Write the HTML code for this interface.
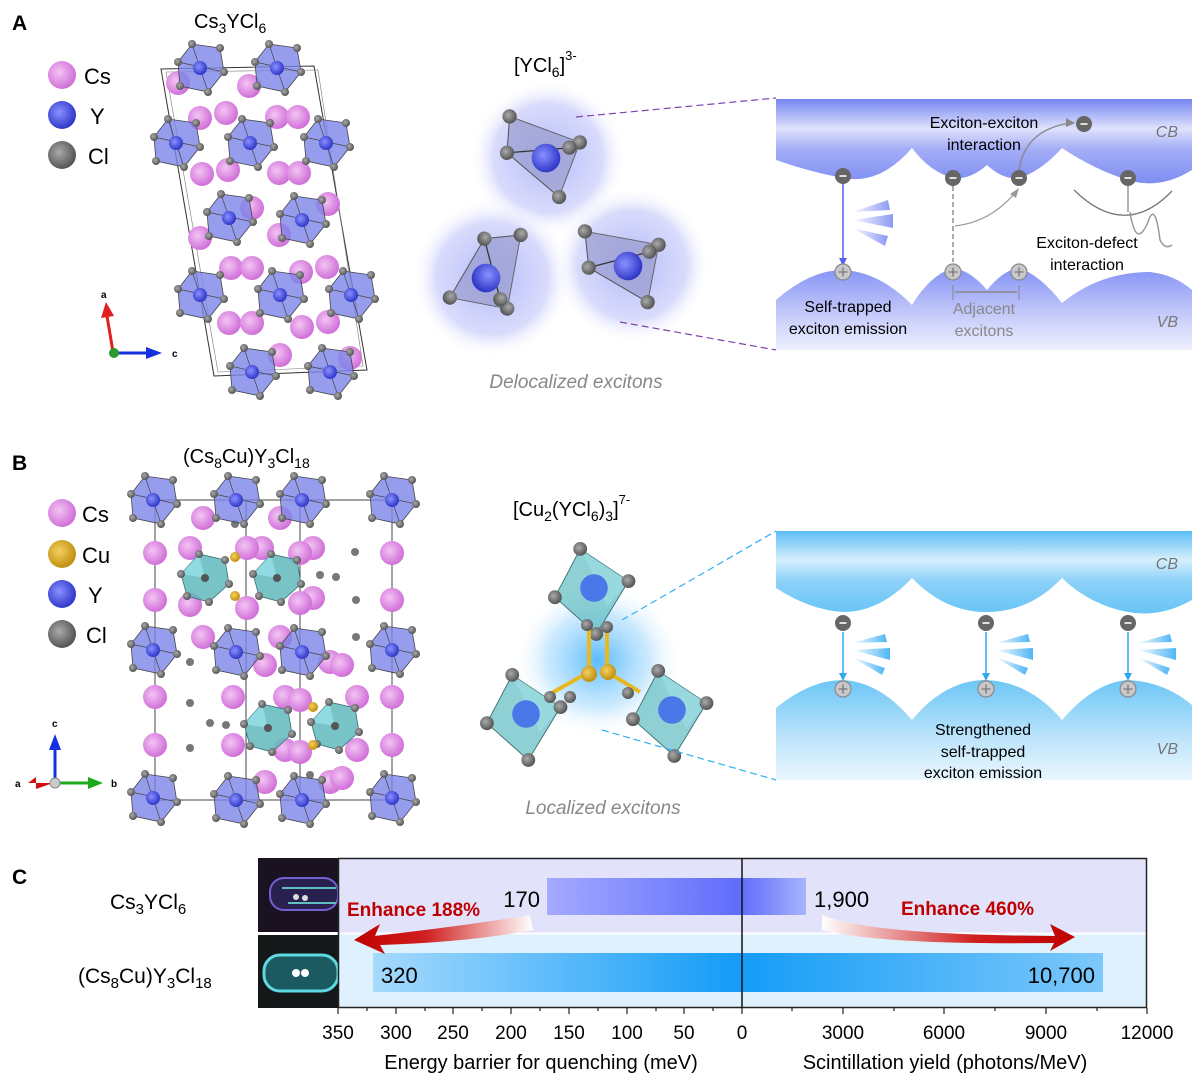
<!DOCTYPE html>
<html><head><meta charset="utf-8"><style>
html,body{margin:0;padding:0;background:#fff;}
svg{display:block;font-family:"Liberation Sans",Arial,sans-serif;}
</style></head><body>
<svg width="1193" height="1079" viewBox="0 0 1193 1079" xmlns="http://www.w3.org/2000/svg">
<defs>
<radialGradient id="cs" cx="40%" cy="40%" r="60%"><stop offset="0" stop-color="#f4c4f4"/><stop offset="1" stop-color="#d070d8"/></radialGradient>
<radialGradient id="yb" cx="40%" cy="40%" r="60%"><stop offset="0" stop-color="#8a90ff"/><stop offset="1" stop-color="#3038c8"/></radialGradient>
<radialGradient id="cl" cx="40%" cy="40%" r="60%"><stop offset="0" stop-color="#aaa"/><stop offset="1" stop-color="#555"/></radialGradient>
<radialGradient id="cu" cx="40%" cy="40%" r="60%"><stop offset="0" stop-color="#f5d060"/><stop offset="1" stop-color="#c09010"/></radialGradient>
<radialGradient id="glowA" cx="50%" cy="50%" r="50%"><stop offset="0" stop-color="#aab0f8" stop-opacity=".9"/><stop offset=".7" stop-color="#c4c8fa" stop-opacity=".65"/><stop offset="1" stop-color="#fff" stop-opacity="0"/></radialGradient>
<radialGradient id="glowB" cx="50%" cy="50%" r="50%"><stop offset="0" stop-color="#50b8ff" stop-opacity=".95"/><stop offset=".6" stop-color="#a0d8fc" stop-opacity=".55"/><stop offset="1" stop-color="#fff" stop-opacity="0"/></radialGradient>
<linearGradient id="cbA" x1="0" y1="0" x2="0" y2="1"><stop offset="0" stop-color="#7585f2"/><stop offset=".35" stop-color="#dfe2fc"/><stop offset=".6" stop-color="#a3adf6"/><stop offset="1" stop-color="#7f8ef3"/></linearGradient>
<linearGradient id="vbA" x1="0" y1="0" x2="0" y2="1"><stop offset="0" stop-color="#8593f4"/><stop offset=".6" stop-color="#c8cdfa"/><stop offset="1" stop-color="#eef0fe"/></linearGradient>
<linearGradient id="cbB" x1="0" y1="0" x2="0" y2="1"><stop offset="0" stop-color="#5cbdf5"/><stop offset=".35" stop-color="#d6effd"/><stop offset=".6" stop-color="#8ed2f8"/><stop offset="1" stop-color="#66c4f6"/></linearGradient>
<linearGradient id="vbB" x1="0" y1="0" x2="0" y2="1"><stop offset="0" stop-color="#6cc6f6"/><stop offset=".6" stop-color="#bfe5fb"/><stop offset="1" stop-color="#eaf7fe"/></linearGradient>
<linearGradient id="bar1" x1="0" y1="0" x2="1" y2="0"><stop offset="0" stop-color="#a4aaff"/><stop offset=".75" stop-color="#5f6cfb"/><stop offset="1" stop-color="#a8b4fc"/></linearGradient>
<linearGradient id="bar2" x1="0" y1="0" x2="1" y2="0"><stop offset="0" stop-color="#a6dafc"/><stop offset=".5" stop-color="#149cf8"/><stop offset="1" stop-color="#7cc8fa"/></linearGradient>
<linearGradient id="arrL" x1="1" y1="0" x2="0" y2="0"><stop offset="0" stop-color="#fff"/><stop offset=".6" stop-color="#d02020"/><stop offset="1" stop-color="#c00000"/></linearGradient>
<linearGradient id="arrR" x1="0" y1="0" x2="1" y2="0"><stop offset="0" stop-color="#fff"/><stop offset=".6" stop-color="#d02020"/><stop offset="1" stop-color="#c00000"/></linearGradient>
<linearGradient id="rayA" x1="0" y1="0" x2="1" y2="0"><stop offset="0" stop-color="#fff"/><stop offset="1" stop-color="#7080f0"/></linearGradient>
<linearGradient id="rayB" x1="0" y1="0" x2="1" y2="0"><stop offset="0" stop-color="#fff"/><stop offset="1" stop-color="#30aaf5"/></linearGradient>
<g id="octA">
 <polygon points="-22,-6 -8,-24 20,-20 24,4 8,24 -20,18" fill="#7d84e8" fill-opacity=".8" stroke="#444" stroke-width=".8"/>
 <line x1="-22" y1="-6" x2="24" y2="4" stroke="#444" stroke-width=".7"/><line x1="-8" y1="-24" x2="8" y2="24" stroke="#444" stroke-width=".7"/>
 <circle r="7" fill="url(#yb)"/>
 <circle cx="-22" cy="-6" r="4" fill="url(#cl)"/><circle cx="-8" cy="-24" r="4" fill="url(#cl)"/><circle cx="20" cy="-20" r="4" fill="url(#cl)"/><circle cx="24" cy="4" r="4" fill="url(#cl)"/><circle cx="8" cy="24" r="4" fill="url(#cl)"/><circle cx="-20" cy="18" r="4" fill="url(#cl)"/>
</g>
<g id="octT">
 <polygon points="-24,-4 -6,-24 20,-18 24,6 4,24 -18,18" fill="#5fb8bc" fill-opacity=".85" stroke="#3a6f72" stroke-width=".8"/>
 <polygon points="-24,-4 -6,-24 0,0" fill="#9be4ec" fill-opacity=".7"/>
 <circle r="4" fill="#555"/>
 <circle cx="-24" cy="-4" r="4" fill="url(#cl)"/><circle cx="-6" cy="-24" r="4" fill="url(#cl)"/><circle cx="20" cy="-18" r="4" fill="url(#cl)"/><circle cx="24" cy="6" r="4" fill="url(#cl)"/><circle cx="4" cy="24" r="4" fill="url(#cl)"/><circle cx="-18" cy="18" r="4" fill="url(#cl)"/>
</g>
<g id="tetA">
 <polygon points="-30,-4 -28,-32 26,-12 10,30" fill="#8f93c8" fill-opacity=".6" stroke="#555" stroke-width=".8"/>
 <polygon points="-28,-32 26,-12 10,30" fill="#a8abd8" fill-opacity=".4"/>
 <line x1="-30" y1="-4" x2="20" y2="-8" stroke="#333"/>
 <circle r="11" fill="url(#yb)"/>
 <circle cx="-30" cy="-4" r="5.5" fill="url(#cl)"/><circle cx="-28" cy="-32" r="5.5" fill="url(#cl)"/><circle cx="26" cy="-12" r="5.5" fill="url(#cl)"/><circle cx="10" cy="30" r="5.5" fill="url(#cl)"/><circle cx="18" cy="-8" r="5.5" fill="url(#cl)"/>
</g>
<g id="tetB">
 <polygon points="-34,8 -12,-34 30,-6 2,40" fill="#68c0c6" fill-opacity=".75" stroke="#3b6e70" stroke-width=".8"/>
 <polygon points="-12,-34 30,-6 12,16" fill="#a0e2e8" fill-opacity=".5"/>
 <circle r="12" fill="#4a78e8"/>
 <circle cx="-34" cy="8" r="6" fill="url(#cl)"/><circle cx="-12" cy="-34" r="6" fill="url(#cl)"/><circle cx="30" cy="-6" r="6" fill="url(#cl)"/><circle cx="2" cy="40" r="6" fill="url(#cl)"/>
</g>
<g id="em"><circle r="8" fill="#666"/><rect x="-3.5" y="-.8" width="7" height="1.6" fill="#fff"/></g>
<g id="hp"><circle r="8" fill="#c8c8c8" stroke="#888" stroke-width="1.2"/><path d="M-4.5 0H4.5M0 -4.5V4.5" stroke="#777" stroke-width="1.3"/></g>
</defs>

<text x="12" y="30" font-size="21" font-weight="bold">A</text>
<text x="12" y="470" font-size="21" font-weight="bold">B</text>
<text x="12" y="884" font-size="21" font-weight="bold">C</text>

<!-- Panel A structure -->
<text x="194" y="28" font-size="20">Cs<tspan font-size="14" dy="5">3</tspan><tspan dy="-5">YCl</tspan><tspan font-size="14" dy="5">6</tspan></text>
<circle cx="62" cy="75" r="14" fill="url(#cs)"/><text x="84" y="84" font-size="22">Cs</text>
<circle cx="62" cy="115" r="14" fill="url(#yb)"/><text x="90" y="124" font-size="22">Y</text>
<circle cx="62" cy="155" r="14" fill="url(#cl)"/><text x="88" y="164" font-size="22">Cl</text>
<polygon points="161,69 314,66 367,370 214,376" fill="none" stroke="#333" stroke-width="1"/>
<polygon points="166,72 318,70 363,366 218,372" fill="none" stroke="#777" stroke-width=".6"/>
<g fill="url(#cs)">
<circle cx="178" cy="83" r="12"/><circle cx="249" cy="86" r="12"/><circle cx="200" cy="118" r="12"/><circle cx="226" cy="113" r="12"/><circle cx="277" cy="117" r="12"/><circle cx="298" cy="117" r="12"/><circle cx="202" cy="174" r="12"/><circle cx="228" cy="170" r="12"/><circle cx="279" cy="173" r="12"/><circle cx="299" cy="173" r="12"/><circle cx="252" cy="208" r="12"/><circle cx="328" cy="204" r="12"/><circle cx="200" cy="238" r="12"/><circle cx="279" cy="235" r="12"/><circle cx="231" cy="268" r="12"/><circle cx="252" cy="268" r="12"/><circle cx="301" cy="272" r="12"/><circle cx="327" cy="267" r="12"/><circle cx="229" cy="323" r="12"/><circle cx="252" cy="323" r="12"/><circle cx="302" cy="327" r="12"/><circle cx="328" cy="322" r="12"/><circle cx="280" cy="355" r="12"/><circle cx="350" cy="358" r="12"/>
</g>
<use href="#octA" x="200" y="68"/><use href="#octA" x="277" y="68"/>
<use href="#octA" x="176" y="143"/><use href="#octA" x="250" y="143"/><use href="#octA" x="326" y="143"/>
<use href="#octA" x="229" y="218"/><use href="#octA" x="302" y="220"/>
<use href="#octA" x="200" y="295"/><use href="#octA" x="280" y="295"/><use href="#octA" x="351" y="295"/>
<use href="#octA" x="252" y="372"/><use href="#octA" x="330" y="372"/>
<line x1="113" y1="352" x2="107" y2="316" stroke="#e02020" stroke-width="3"/><polygon points="101,318 106,302 114,316" fill="#e02020"/>
<line x1="115" y1="353" x2="148" y2="353" stroke="#1530e0" stroke-width="3"/><polygon points="146,347 162,353 146,359" fill="#1530e0"/>
<circle cx="114" cy="353" r="5" fill="#2a9a2a"/>
<text x="101" y="298" font-size="10" font-weight="bold">a</text><text x="172" y="357" font-size="10" font-weight="bold">c</text>

<!-- Panel A middle -->
<text x="514" y="72" font-size="20">[YCl<tspan font-size="14" dy="5">6</tspan><tspan dy="-5">]</tspan><tspan font-size="13" dy="-12">3-</tspan></text>
<circle cx="548" cy="158" r="78" fill="url(#glowA)"/>
<circle cx="492" cy="278" r="80" fill="url(#glowA)"/>
<circle cx="632" cy="265" r="78" fill="url(#glowA)"/>
<use href="#tetA" transform="translate(546 158) scale(1.3)"/>
<use href="#tetA" transform="translate(486 278) scale(1.3) rotate(80)"/>
<use href="#tetA" transform="translate(628 266) scale(1.3) rotate(-10)"/>
<text x="576" y="388" font-size="19" font-style="italic" fill="#888" text-anchor="middle">Delocalized excitons</text>
<line x1="576" y1="117" x2="776" y2="98" stroke="#8040b0" stroke-width="1.2" stroke-dasharray="7,4"/>
<line x1="620" y1="322" x2="776" y2="350" stroke="#8040b0" stroke-width="1.2" stroke-dasharray="7,4"/>

<!-- Panel A band -->
<path d="M776 99 H1192 V170 Q1160 190 1128 180 Q1095 170 1062 148 Q1040 172 1019 178 Q1003 180 987 165 Q970 180 953 178 Q930 172 912 148 Q880 185 843 178 Q810 172 776 160 Z" fill="url(#cbA)"/>
<path d="M776 300 Q810 270 843 270 Q880 272 912 305 Q930 275 953 268 Q970 270 987 290 Q1003 270 1019 268 Q1040 275 1062 303 Q1100 272 1150 272 Q1175 275 1192 290 V350 H776 Z" fill="url(#vbA)"/>
<text x="1178" y="137" font-size="16" font-style="italic" fill="#777" text-anchor="end">CB</text>
<text x="1178" y="327" font-size="16" font-style="italic" fill="#777" text-anchor="end">VB</text>
<line x1="843" y1="184" x2="843" y2="262" stroke="#5560f0" stroke-width="1.5"/><polygon points="839,258 843,266 847,258" fill="#5560f0"/>
<g fill="url(#rayA)" opacity=".8"><polygon points="852,212 888,200 890,210"/><polygon points="852,220 893,214 893,228"/><polygon points="852,228 888,236 885,246"/></g>
<line x1="953" y1="186" x2="953" y2="262" stroke="#aaa" stroke-width="2" stroke-dasharray="5,3"/>
<path d="M955 226 Q990 222 1014 194" fill="none" stroke="#999" stroke-width="1.3"/><polygon points="1010,194 1019,188 1016,198" fill="#999"/>
<path d="M1019 170 Q1025 130 1070 123" fill="none" stroke="#888" stroke-width="1.3"/><polygon points="1066,118 1075,123 1066,127" fill="#888"/>
<path d="M1074 190 Q1125 240 1172 191" fill="none" stroke="#777" stroke-width="1.3"/>
<line x1="1128" y1="186" x2="1128" y2="212" stroke="#999" stroke-width="1.5"/>
<path d="M1130 212 Q1136 250 1148 222 Q1155 200 1160 240 Q1165 250 1172 245" fill="none" stroke="#999" stroke-width="1.5"/>
<use href="#em" x="843" y="176"/><use href="#em" x="953" y="178"/><use href="#em" x="1019" y="178"/><use href="#em" x="1128" y="178"/><use href="#em" x="1084" y="124"/>
<use href="#hp" x="843" y="272"/><use href="#hp" x="953" y="272"/><use href="#hp" x="1019" y="272"/>
<line x1="953" y1="285" x2="953" y2="300" stroke="#888"/><line x1="1019" y1="285" x2="1019" y2="300" stroke="#888"/>
<line x1="955" y1="292" x2="1017" y2="292" stroke="#888" stroke-width="1.5"/>
<text x="984" y="128" font-size="16" text-anchor="middle">Exciton-exciton</text>
<text x="984" y="150" font-size="16" text-anchor="middle">interaction</text>
<text x="1087" y="248" font-size="16" text-anchor="middle">Exciton-defect</text>
<text x="1087" y="270" font-size="16" text-anchor="middle">interaction</text>
<text x="848" y="312" font-size="16" text-anchor="middle">Self-trapped</text>
<text x="848" y="334" font-size="16" text-anchor="middle">exciton emission</text>
<text x="984" y="314" font-size="16" text-anchor="middle" fill="#888">Adjacent</text>
<text x="984" y="336" font-size="16" text-anchor="middle" fill="#888">excitons</text>

<!-- Panel B structure -->
<text x="183" y="463" font-size="20">(Cs<tspan font-size="14" dy="5">8</tspan><tspan dy="-5">Cu)Y</tspan><tspan font-size="14" dy="5">3</tspan><tspan dy="-5">Cl</tspan><tspan font-size="14" dy="5">18</tspan></text>
<circle cx="62" cy="513" r="14" fill="url(#cs)"/><text x="82" y="522" font-size="22">Cs</text>
<circle cx="62" cy="554" r="14" fill="url(#cu)"/><text x="82" y="563" font-size="22">Cu</text>
<circle cx="62" cy="594" r="14" fill="url(#yb)"/><text x="88" y="603" font-size="22">Y</text>
<circle cx="62" cy="634" r="14" fill="url(#cl)"/><text x="86" y="643" font-size="22">Cl</text>
<g stroke="#444" stroke-width="1" fill="none">
<line x1="155" y1="500" x2="392" y2="500"/><line x1="155" y1="800" x2="392" y2="800"/>
<line x1="155" y1="500" x2="155" y2="800"/><line x1="392" y1="500" x2="392" y2="800"/>
<line x1="246" y1="500" x2="246" y2="800"/><line x1="300" y1="500" x2="300" y2="800"/>
</g>
<g fill="#777"><circle cx="235" cy="524" r="4"/><circle cx="355" cy="552" r="4"/><circle cx="320" cy="575" r="4"/><circle cx="336" cy="577" r="4"/><circle cx="356" cy="600" r="4"/><circle cx="190" cy="662" r="4"/><circle cx="356" cy="637" r="4"/><circle cx="190" cy="703" r="4"/><circle cx="210" cy="723" r="4"/><circle cx="226" cy="725" r="4"/><circle cx="190" cy="748" r="4"/><circle cx="310" cy="775" r="4"/></g>
<g fill="url(#cs)">
<circle cx="155" cy="553" r="12"/><circle cx="155" cy="600" r="12"/><circle cx="155" cy="697" r="12"/><circle cx="155" cy="745" r="12"/>
<circle cx="392" cy="553" r="12"/><circle cx="392" cy="600" r="12"/><circle cx="392" cy="697" r="12"/><circle cx="392" cy="745" r="12"/>
<circle cx="203" cy="518" r="12"/><circle cx="280" cy="518" r="12"/><circle cx="190" cy="548" r="12"/><circle cx="262" cy="548" r="12"/><circle cx="247" cy="548" r="12"/><circle cx="313" cy="548" r="12"/><circle cx="300" cy="553" r="12"/>
<circle cx="190" cy="605" r="12"/><circle cx="247" cy="608" r="12"/><circle cx="313" cy="598" r="12"/><circle cx="300" cy="603" r="12"/>
<circle cx="203" cy="637" r="12"/><circle cx="280" cy="637" r="12"/><circle cx="265" cy="665" r="12"/><circle cx="330" cy="662" r="12"/><circle cx="342" cy="665" r="12"/>
<circle cx="233" cy="697" r="12"/><circle cx="285" cy="697" r="12"/><circle cx="300" cy="700" r="12"/><circle cx="357" cy="697" r="12"/>
<circle cx="233" cy="745" r="12"/><circle cx="285" cy="750" r="12"/><circle cx="300" cy="752" r="12"/><circle cx="357" cy="750" r="12"/><circle cx="265" cy="782" r="12"/><circle cx="330" cy="782" r="12"/><circle cx="342" cy="778" r="12"/>
</g>
<use href="#octT" x="205" y="578"/><use href="#octT" x="277" y="578"/><use href="#octT" x="268" y="728"/><use href="#octT" x="335" y="726"/>
<g fill="url(#cu)"><circle cx="235" cy="557" r="5"/><circle cx="235" cy="596" r="5"/><circle cx="313" cy="707" r="5"/><circle cx="313" cy="745" r="5"/></g>
<use href="#octA" x="153" y="500"/><use href="#octA" x="236" y="500"/><use href="#octA" x="302" y="500"/><use href="#octA" x="392" y="500"/>
<use href="#octA" x="153" y="650"/><use href="#octA" x="236" y="652"/><use href="#octA" x="302" y="652"/><use href="#octA" x="392" y="650"/>
<use href="#octA" x="153" y="798"/><use href="#octA" x="236" y="800"/><use href="#octA" x="302" y="800"/><use href="#octA" x="392" y="798"/>
<line x1="55" y1="783" x2="55" y2="748" stroke="#1530e0" stroke-width="3"/><polygon points="49,750 55,734 61,750" fill="#1530e0"/>
<line x1="57" y1="783" x2="90" y2="783" stroke="#1aaa1a" stroke-width="3"/><polygon points="88,777 103,783 88,789" fill="#1aaa1a"/>
<polygon points="53,783 36,783 28,783 36,777 36,789" fill="#d01010"/>
<circle cx="55" cy="783" r="5" fill="#ccc" stroke="#888"/>
<text x="52" y="727" font-size="10" font-weight="bold">c</text><text x="111" y="787" font-size="10" font-weight="bold">b</text><text x="15" y="787" font-size="10" font-weight="bold">a</text>

<!-- Panel B middle -->
<text x="513" y="516" font-size="20">[Cu<tspan font-size="14" dy="5">2</tspan><tspan dy="-5">(YCl</tspan><tspan font-size="14" dy="5">6</tspan><tspan dy="-5">)</tspan><tspan font-size="14" dy="5">3</tspan><tspan dy="-5">]</tspan><tspan font-size="13" dy="-12">7-</tspan></text>
<ellipse cx="598" cy="660" rx="85" ry="78" fill="url(#glowB)"/>
<use href="#tetB" transform="translate(594 588) scale(1.15)"/>
<use href="#tetB" transform="translate(526 714) scale(1.15)"/>
<use href="#tetB" transform="translate(672 710) scale(1.15)"/>
<g stroke="#e8b820" stroke-width="4"><line x1="589" y1="627" x2="589" y2="672"/><line x1="607" y1="627" x2="607" y2="672"/><line x1="589" y1="672" x2="550" y2="694"/><line x1="607" y1="672" x2="640" y2="692"/></g>
<g fill="url(#cl)"><circle cx="587" cy="625" r="6"/><circle cx="607" cy="627" r="6"/><circle cx="550" cy="697" r="6"/><circle cx="570" cy="697" r="6"/><circle cx="628" cy="693" r="6"/></g>
<circle cx="589" cy="674" r="8" fill="url(#cu)"/><circle cx="608" cy="672" r="8" fill="url(#cu)"/>
<text x="603" y="814" font-size="19" font-style="italic" fill="#888" text-anchor="middle">Localized excitons</text>
<line x1="622" y1="620" x2="776" y2="531" stroke="#30b0f0" stroke-width="1.2" stroke-dasharray="7,4"/>
<line x1="602" y1="730" x2="776" y2="780" stroke="#30b0f0" stroke-width="1.2" stroke-dasharray="7,4"/>

<!-- Panel B band -->
<path d="M776 531 H1192 V600 Q1160 618 1128 612 Q1090 605 1062 578 Q1030 612 986 612 Q945 612 912 578 Q880 612 843 612 Q810 610 776 588 Z" fill="url(#cbB)"/>
<path d="M776 708 Q810 680 843 680 Q880 682 912 720 Q945 680 986 680 Q1030 682 1062 720 Q1095 682 1128 680 Q1165 682 1192 705 V780 H776 Z" fill="url(#vbB)"/>
<text x="1178" y="569" font-size="16" font-style="italic" fill="#777" text-anchor="end">CB</text>
<text x="1178" y="754" font-size="16" font-style="italic" fill="#777" text-anchor="end">VB</text>
<g stroke="#30a8f0" stroke-width="1.5"><line x1="843" y1="632" x2="843" y2="676"/><line x1="986" y1="632" x2="986" y2="676"/><line x1="1128" y1="632" x2="1128" y2="676"/></g>
<g fill="#30a8f0"><polygon points="839,673 843,681 847,673"/><polygon points="982,673 986,681 990,673"/><polygon points="1124,673 1128,681 1132,673"/></g>
<g fill="url(#rayB)" opacity=".85">
<polygon points="852,643 885,634 887,642"/><polygon points="852,650 890,648 890,660"/><polygon points="852,657 885,668 882,675"/>
<polygon points="995,643 1028,634 1030,642"/><polygon points="995,650 1033,648 1033,660"/><polygon points="995,657 1028,668 1025,675"/>
<polygon points="1137,643 1170,634 1172,642"/><polygon points="1137,650 1176,648 1176,660"/><polygon points="1137,657 1170,668 1167,675"/>
</g>
<use href="#em" x="843" y="623"/><use href="#em" x="986" y="623"/><use href="#em" x="1128" y="623"/>
<use href="#hp" x="843" y="689"/><use href="#hp" x="986" y="689"/><use href="#hp" x="1128" y="689"/>
<text x="983" y="735" font-size="16" text-anchor="middle">Strengthened</text>
<text x="983" y="757" font-size="16" text-anchor="middle">self-trapped</text>
<text x="983" y="778" font-size="16" text-anchor="middle">exciton emission</text>

<!-- Panel C -->
<text x="110" y="909" font-size="21">Cs<tspan font-size="15" dy="5">3</tspan><tspan dy="-5">YCl</tspan><tspan font-size="15" dy="5">6</tspan></text>
<text x="78" y="983" font-size="21">(Cs<tspan font-size="15" dy="5">8</tspan><tspan dy="-5">Cu)Y</tspan><tspan font-size="15" dy="5">3</tspan><tspan dy="-5">Cl</tspan><tspan font-size="15" dy="5">18</tspan></text>
<rect x="258" y="858" width="80" height="74" fill="#1a1220"/>
<rect x="270" y="878" width="68" height="32" rx="14" fill="#2a2050" stroke="#7060d0" stroke-width="2"/>
<line x1="282" y1="888" x2="336" y2="888" stroke="#60c0c0" stroke-width="2"/><line x1="288" y1="903" x2="336" y2="903" stroke="#60c0c0" stroke-width="2"/>
<circle cx="296" cy="897" r="3" fill="#ddd"/><circle cx="305" cy="898" r="3" fill="#ddd"/>
<rect x="258" y="935" width="80" height="73" fill="#141818"/>
<rect x="264" y="955" width="74" height="36" rx="16" fill="#1b5a60" stroke="#60d8e0" stroke-width="3"/>
<circle cx="296" cy="973" r="4" fill="#fff"/><circle cx="305" cy="973" r="4" fill="#fff"/>
<rect x="338" y="858" width="809" height="75" fill="#e2e3fb"/>
<rect x="338" y="934" width="809" height="74" fill="#dff1fc"/>
<line x1="338" y1="933.5" x2="1147" y2="933.5" stroke="#fff" stroke-width="2"/>
<rect x="547" y="878" width="259" height="37" fill="url(#bar1)"/>
<rect x="373" y="953" width="730" height="39" fill="url(#bar2)"/>
<rect x="338.5" y="858.5" width="808" height="149" fill="none" stroke="#222" stroke-width="1.5"/>
<line x1="742" y1="858" x2="742" y2="1008" stroke="#111" stroke-width="1.5"/>
<path d="M530 915 Q470 925 375 936 L380 924 L354 940 L385 954 L380 945 Q470 942 533 930 Z" fill="url(#arrL)"/>
<path d="M822 915 Q870 935 1055 936 L1050 924 L1075 937 L1050 951 L1054 943 Q880 945 822 930 Z" fill="url(#arrR)"/>
<text x="347" y="916" font-size="19" font-weight="bold" fill="#c00000">Enhance 188%</text>
<text x="901" y="915" font-size="19" font-weight="bold" fill="#c00000">Enhance 460%</text>
<text x="540" y="907" font-size="22" text-anchor="end">170</text>
<text x="814" y="907" font-size="22">1,900</text>
<text x="381" y="983" font-size="22">320</text>
<text x="1095" y="983" font-size="22" text-anchor="end">10,700</text>
<g stroke="#222" stroke-width="1.2">
<line x1="338" y1="1008" x2="338" y2="1014"/><line x1="396" y1="1008" x2="396" y2="1014"/><line x1="453" y1="1008" x2="453" y2="1014"/><line x1="511" y1="1008" x2="511" y2="1014"/><line x1="569" y1="1008" x2="569" y2="1014"/><line x1="627" y1="1008" x2="627" y2="1014"/><line x1="684" y1="1008" x2="684" y2="1014"/><line x1="742" y1="1008" x2="742" y2="1014"/>
<line x1="843" y1="1008" x2="843" y2="1014"/><line x1="944" y1="1008" x2="944" y2="1014"/><line x1="1046" y1="1008" x2="1046" y2="1014"/><line x1="1147" y1="1008" x2="1147" y2="1014"/>
<line x1="367" y1="1008" x2="367" y2="1011"/><line x1="425" y1="1008" x2="425" y2="1011"/><line x1="482" y1="1008" x2="482" y2="1011"/><line x1="540" y1="1008" x2="540" y2="1011"/><line x1="598" y1="1008" x2="598" y2="1011"/><line x1="656" y1="1008" x2="656" y2="1011"/><line x1="713" y1="1008" x2="713" y2="1011"/>
<line x1="792" y1="1008" x2="792" y2="1011"/><line x1="894" y1="1008" x2="894" y2="1011"/><line x1="995" y1="1008" x2="995" y2="1011"/><line x1="1097" y1="1008" x2="1097" y2="1011"/>
</g>
<g font-size="19" text-anchor="middle">
<text x="338" y="1039">350</text><text x="396" y="1039">300</text><text x="453" y="1039">250</text><text x="511" y="1039">200</text><text x="569" y="1039">150</text><text x="627" y="1039">100</text><text x="684" y="1039">50</text><text x="742" y="1039">0</text>
<text x="843" y="1039">3000</text><text x="944" y="1039">6000</text><text x="1046" y="1039">9000</text><text x="1147" y="1039">12000</text>
</g>
<text x="541" y="1069" font-size="20" text-anchor="middle">Energy barrier for quenching (meV)</text>
<text x="945" y="1069" font-size="20" text-anchor="middle">Scintillation yield (photons/MeV)</text>
</svg>
</body></html>
